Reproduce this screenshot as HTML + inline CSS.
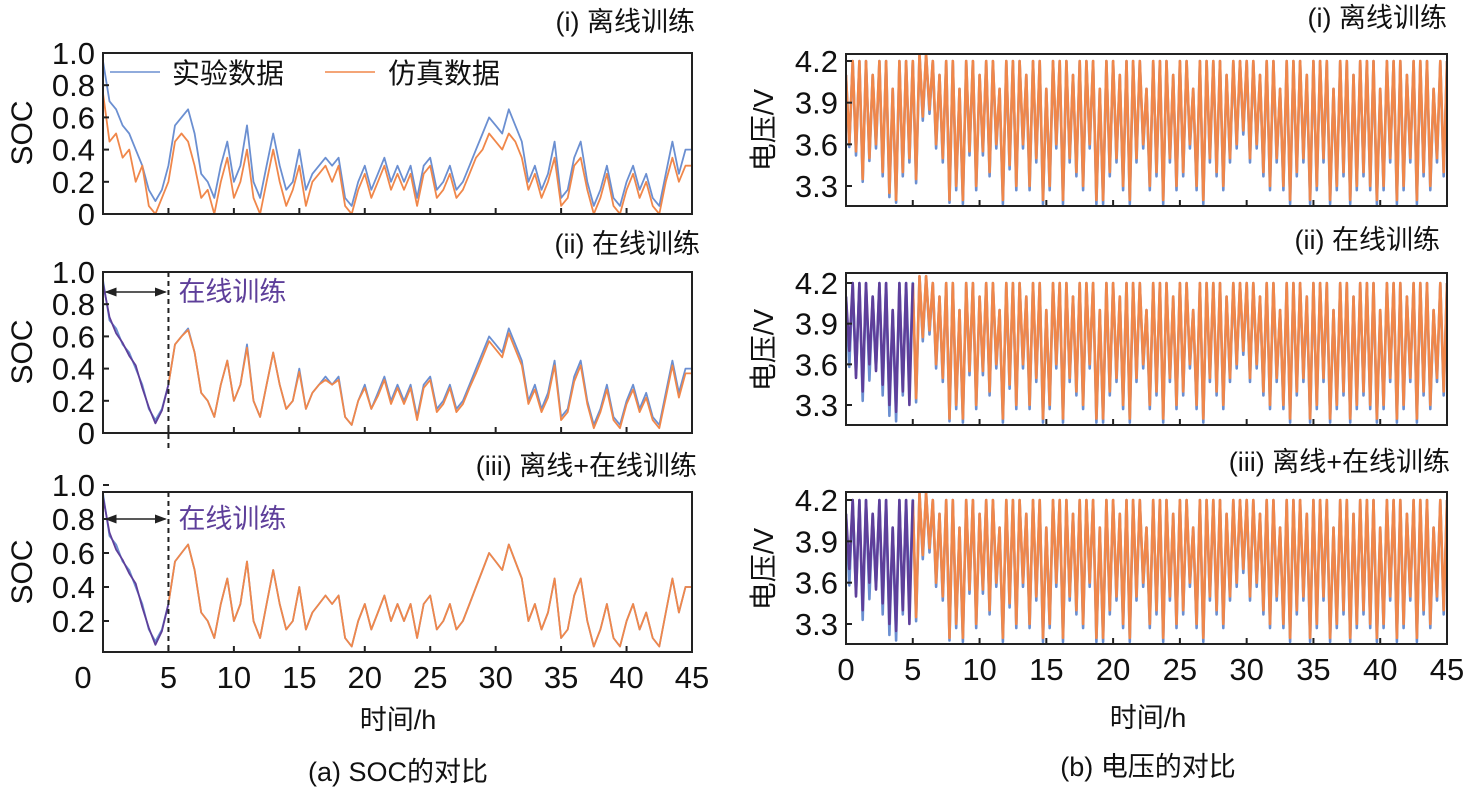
<!DOCTYPE html>
<html><head><meta charset="utf-8"><style>
html,body{margin:0;padding:0;background:#fff;}
svg{display:block;font-family:"Liberation Sans","Noto Sans CJK SC",sans-serif;}
</style></head><body>
<svg id="chart" width="1482" height="791" viewBox="0 0 1482 791" xmlns="http://www.w3.org/2000/svg">
<defs>
<marker id="arr" markerWidth="8" markerHeight="8" refX="7" refY="4" orient="auto"><path d="M0,1 L8,4 L0,7 z" fill="#222"/></marker>
<marker id="arrs" markerWidth="8" markerHeight="8" refX="1" refY="4" orient="auto"><path d="M8,1 L0,4 L8,7 z" fill="#222"/></marker>
</defs>
</svg>
<script>
// ---- data ----
const socTimeStep = 0.5;
const socExp = [0.95,0.7,0.65,0.55,0.5,0.4,0.3,0.15,0.08,0.15,
0.3,0.55,0.6,0.65,0.5,0.25,0.2,0.1,0.3,0.45,
0.2,0.3,0.55,0.2,0.1,0.3,0.5,0.3,0.15,0.2,
0.4,0.15,0.25,0.3,0.35,0.3,0.35,0.1,0.05,0.2,
0.3,0.15,0.25,0.35,0.2,0.3,0.2,0.3,0.1,0.3,
0.35,0.15,0.2,0.3,0.15,0.2,0.3,0.4,0.5,0.6,
0.55,0.5,0.65,0.55,0.45,0.2,0.3,0.15,0.25,0.45,
0.1,0.15,0.35,0.45,0.2,0.05,0.15,0.3,0.1,0.05,
0.2,0.3,0.15,0.25,0.1,0.05,0.25,0.45,0.25,0.4,
0.4];
const socSimOffline = [0.75,0.45,0.5,0.35,0.4,0.2,0.3,0.05,0,0.1,
0.2,0.45,0.5,0.45,0.3,0.1,0.15,0,0.2,0.35,
0.1,0.2,0.4,0.1,0,0.2,0.4,0.2,0.05,0.15,
0.3,0.05,0.2,0.25,0.3,0.2,0.3,0.05,0,0.15,
0.25,0.1,0.2,0.3,0.15,0.25,0.15,0.25,0.05,0.25,
0.3,0.1,0.15,0.25,0.1,0.15,0.25,0.35,0.4,0.5,
0.45,0.4,0.5,0.45,0.35,0.15,0.25,0.1,0.2,0.35,
0.05,0.1,0.3,0.35,0.15,0,0.1,0.25,0.05,0,
0.15,0.25,0.1,0.2,0.05,0,0.2,0.35,0.2,0.3,
0.3];
const socSimOnline = [0.93,0.72,0.62,0.56,0.48,0.42,0.28,0.16,0.06,0.14,
0.3,0.55,0.6,0.64,0.5,0.25,0.2,0.1,0.3,0.45,
0.2,0.3,0.53,0.2,0.1,0.3,0.5,0.3,0.15,0.2,
0.38,0.15,0.25,0.3,0.33,0.3,0.33,0.1,0.05,0.2,
0.28,0.15,0.23,0.33,0.18,0.28,0.18,0.28,0.08,0.28,
0.33,0.13,0.18,0.28,0.13,0.18,0.28,0.37,0.47,0.57,
0.52,0.47,0.62,0.52,0.42,0.18,0.27,0.13,0.22,0.42,
0.08,0.13,0.32,0.42,0.18,0.03,0.13,0.27,0.08,0.03,
0.18,0.27,0.13,0.22,0.08,0.03,0.22,0.42,0.22,0.37,
0.37];
const vHigh = [4.1,4.2,4.2,4.2,4.1,4.2,4.2,4.0,4.2,4.2,
4.2,4.25,4.25,4.2,4.1,4.2,4.2,4.0,4.2,4.2,
4.1,4.2,4.2,4.0,4.2,4.2,4.2,4.1,4.2,4.2,
4.0,4.2,4.2,4.2,4.1,4.2,4.2,4.2,4.0,4.2,
4.2,4.1,4.2,4.2,4.2,4.0,4.2,4.2,4.2,4.1,
4.2,4.2,4.0,4.2,4.2,4.2,4.2,4.1,4.2,4.2,
4.2,4.2,4.1,4.2,4.2,4.0,4.2,4.2,4.2,4.1,
4.2,4.2,4.2,4.0,4.2,4.2,4.1,4.2,4.2,4.2,
4.0,4.2,4.2,4.2,4.1,4.2,4.2,4.2,4.0,4.2,
4.2];
const vLowSim = [3.6,3.55,3.35,3.5,3.6,3.4,3.25,3.2,3.4,3.5,
3.35,3.8,3.85,3.6,3.5,3.2,3.3,3.2,3.55,3.3,
3.55,3.4,3.6,3.2,3.45,3.3,3.6,3.3,3.5,3.2,
3.3,3.6,3.2,3.5,3.4,3.3,3.6,3.2,3.2,3.4,
3.5,3.3,3.2,3.5,3.6,3.3,3.4,3.2,3.5,3.3,
3.4,3.6,3.3,3.2,3.5,3.4,3.3,3.5,3.6,3.7,
3.5,3.6,3.4,3.3,3.5,3.3,3.2,3.4,3.5,3.2,
3.3,3.5,3.2,3.3,3.4,3.2,3.3,3.4,3.3,3.2,
3.3,3.5,3.2,3.3,3.5,3.2,3.4,3.3,3.5,3.4,
3.3];
const vLowExp = [3.58,3.52,3.33,3.48,3.57,3.37,3.22,3.18,3.37,3.47,
3.32,3.77,3.82,3.57,3.47,3.18,3.27,3.17,3.52,3.27,
3.52,3.37,3.57,3.17,3.42,3.27,3.57,3.27,3.47,3.17,
3.27,3.57,3.17,3.47,3.37,3.27,3.57,3.17,3.17,3.37,
3.47,3.27,3.17,3.47,3.57,3.27,3.37,3.17,3.47,3.27,
3.37,3.57,3.27,3.17,3.47,3.37,3.27,3.47,3.57,3.67,
3.47,3.57,3.37,3.27,3.47,3.27,3.17,3.37,3.47,3.17,
3.27,3.47,3.17,3.27,3.37,3.17,3.27,3.37,3.27,3.17,
3.27,3.47,3.17,3.27,3.47,3.17,3.37,3.27,3.47,3.37,
3.27];
const vLowOnline = [3.7,3.5,3.4,3.6,3.55,3.45,3.3,3.25,3.4,3.3,3.3];
const xTicks = [0,5,10,15,20,25,30,35,40,45];
const socTicks = [0,0.2,0.4,0.6,0.8,1.0];
const socTickLabels = ["0","0.2","0.4","0.6","0.8","1.0"];
const vTicks = [3.3,3.6,3.9,4.2];
const vTickLabels = ["3.3","3.6","3.9","4.2"];

const NS = "http://www.w3.org/2000/svg";
const svg = document.getElementById("chart");
const BLUE = "#6b8fd1", ORANGE = "#f0874a", PURPLE = "#5e3f9a";

function mk(tag, attrs, parent){
  const e = document.createElementNS(NS, tag);
  for (const k in attrs) e.setAttribute(k, attrs[k]);
  (parent||svg).appendChild(e);
  return e;
}
function txt(s, x, y, opts, name){
  const t = mk("text", Object.assign({x:x, y:y, "font-size":26, fill:"#111"}, opts||{}));
  t.textContent = s;
  
  
  return t;
}

function panel(cfg){
  const g = mk("g", {});
  
  
  const xs = t => cfg.x0 + (t/45)*(cfg.x1-cfg.x0);
  const ys = v => cfg.yOf(v);
  const cid = cfg.name + "-clip";
  const cp = mk("clipPath", {id:cid}, g);
  mk("rect", {x:cfg.x0, y:cfg.top, width:cfg.x1-cfg.x0, height:cfg.bot-cfg.top}, cp);
  const plot = mk("g", {"clip-path":"url(#"+cid+")"}, g);
  cfg.series.forEach(s => {
    let pts = [];
    if (s.type === "soc") {
      s.data.forEach((v,i)=>{ const t=i*socTimeStep; if(t>=s.from && t<=s.to) pts.push(xs(t).toFixed(1)+","+ys(v).toFixed(1)); });
    } else {
      s.high.forEach((h,i)=>{
        const t=i*0.5;
        if(t>=s.from && t<=s.to){
          pts.push(xs(t).toFixed(1)+","+ys(h).toFixed(1));
          if(i < s.low.length && t+0.25<=s.to) pts.push(xs(t+0.25).toFixed(1)+","+ys(s.low[i]).toFixed(1));
        }
      });
    }
    const pl = mk("polyline", {points:pts.join(" "), fill:"none", stroke:s.color, "stroke-width":s.type==="soc"?1.8:2.6, "stroke-linejoin":"round"}, plot);
    
    
  });
  const box = mk("rect", {x:cfg.x0, y:cfg.top, width:cfg.x1-cfg.x0, height:cfg.bot-cfg.top, fill:"none", stroke:"#222", "stroke-width":2}, g);
  
  
  cfg.yTicks.forEach((v,i)=>{
    const y = ys(v);
    mk("line", {x1:cfg.x0, x2:cfg.x0+6, y1:y, y2:y, stroke:"#222", "stroke-width":2}, g);
    txt(cfg.yLabels[i], cfg.x0-8, y+11, {"text-anchor":"end", "font-size":31}, cfg.name+'-y-tick-label');
  });
  xTicks.forEach(t=>{
    mk("line", {x1:xs(t), x2:xs(t), y1:cfg.bot, y2:cfg.bot-6, stroke:"#222", "stroke-width":2}, g);
  });
  if (cfg.xLabels) xTicks.forEach(t=>{
    const x = t===0 ? xs(t)-(cfg.zeroShift||0) : xs(t);
    txt(String(t), x, cfg.bot+36, {"text-anchor":"middle", "font-size":31}, 'x-tick-label');
  });
  return {xs, ys};
}

const L = {x0:103, x1:692};
const R = {x0:846, x1:1447};
const socY = (top,bot,lo,hi)=> v => bot - (v-lo)/(hi-lo)*(bot-top);

panel({name:"soc-panel-offline", x0:L.x0, x1:L.x1, top:53, bot:214, yOf:socY(53,214,0,1), yTicks:socTicks, yLabels:socTickLabels,
  series:[{type:"soc", data:socExp, from:0, to:45, color:BLUE, name:"soc-exp-line"},
          {type:"soc", data:socSimOffline, from:0, to:45, color:ORANGE, name:"soc-sim-line"}]});
const p2 = panel({name:"soc-panel-online", x0:L.x0, x1:L.x1, top:272, bot:433, yOf:socY(272,433,0,1), yTicks:socTicks, yLabels:socTickLabels,
  series:[{type:"soc", data:socExp, from:0, to:45, color:BLUE, name:"soc-exp-line"},
          {type:"soc", data:socSimOnline, from:5, to:45, color:ORANGE, name:"soc-sim-line"},
          {type:"soc", data:socSimOnline, from:0, to:5, color:PURPLE, name:"soc-online-training-line"}]});
const p3 = panel({name:"soc-panel-combined", x0:L.x0, x1:L.x1, top:492, bot:652, yOf:v=>621-(v-0.2)*170, yTicks:[0.2,0.4,0.6,0.8,1.0], yLabels:["0.2","0.4","0.6","0.8","1.0"], xLabels:true, zeroShift:20,
  series:[{type:"soc", data:socExp, from:0, to:45, color:BLUE, name:"soc-exp-line"},
          {type:"soc", data:socExp, from:5, to:45, color:ORANGE, name:"soc-sim-line"},
          {type:"soc", data:socSimOnline, from:0, to:5, color:PURPLE, name:"soc-online-training-line"}]});

const vY = (y42, y33) => v => y33 - (v-3.3)/0.9*(y33-y42);
panel({name:"voltage-panel-offline", x0:R.x0, x1:R.x1, top:54, bot:206, yOf:vY(61,186), yTicks:vTicks, yLabels:vTickLabels,
  series:[{type:"v", high:vHigh, low:vLowExp, from:0, to:45, color:BLUE, name:"voltage-exp-line"},
          {type:"v", high:vHigh, low:vLowSim, from:0, to:45, color:ORANGE, name:"voltage-sim-line"}]});
panel({name:"voltage-panel-online", x0:R.x0, x1:R.x1, top:273, bot:425, yOf:vY(283,405), yTicks:vTicks, yLabels:vTickLabels,
  series:[{type:"v", high:vHigh, low:vLowExp, from:0, to:45, color:BLUE, name:"voltage-exp-line"},
          {type:"v", high:vHigh, low:vLowSim, from:5, to:45, color:ORANGE, name:"voltage-sim-line"},
          {type:"v", high:vHigh, low:vLowOnline, from:0, to:5, color:PURPLE, name:"voltage-online-training-line"}]});
panel({name:"voltage-panel-combined", x0:R.x0, x1:R.x1, top:492, bot:644, yOf:vY(500,624), yTicks:vTicks, yLabels:vTickLabels, xLabels:true, zeroShift:0,
  series:[{type:"v", high:vHigh, low:vLowExp, from:0, to:45, color:BLUE, name:"voltage-exp-line"},
          {type:"v", high:vHigh, low:vLowSim, from:5, to:45, color:ORANGE, name:"voltage-sim-line"},
          {type:"v", high:vHigh, low:vLowOnline, from:0, to:5, color:PURPLE, name:"voltage-online-training-line"}]});

[[p2, 292, 272, 448, "online-training-marker-ii"],[p3, 519, 492, 652, "online-training-marker-iii"]].forEach(a=>{
  const p=a[0], x5=p.xs(5);
  const d = mk("line", {x1:x5, x2:x5, y1:a[2], y2:a[3], stroke:"#222", "stroke-width":2, "stroke-dasharray":"5,4"});
  
  
  const ar = mk("line", {x1:p.xs(0)+3, x2:x5-3, y1:a[1], y2:a[1], stroke:"#222", "stroke-width":1.5, "marker-end":"url(#arr)", "marker-start":"url(#arrs)"});
  
  
  txt("在线训练", x5+10, a[1]+9, {fill:PURPLE, "font-size":27}, a[4]+'-label');
});

const lg = mk("g", {});


mk("line", {x1:110, x2:160, y1:72, y2:72, stroke:BLUE, "stroke-width":1.5}, lg);
txt("实验数据", 172, 83, {"font-size":28}, 'legend-entry-experimental');
mk("line", {x1:325, x2:375, y1:72, y2:72, stroke:ORANGE, "stroke-width":1.5}, lg);
txt("仿真数据", 388, 83, {"font-size":28}, 'legend-entry-simulated');

txt("(i) 离线训练", 695, 31, {"text-anchor":"end", "font-size":27}, 'soc-panel-offline-title');
txt("(ii) 在线训练", 700, 253, {"text-anchor":"end", "font-size":27}, 'soc-panel-online-title');
txt("(iii) 离线+在线训练", 697, 475, {"text-anchor":"end", "font-size":27}, 'soc-panel-combined-title');
txt("(i) 离线训练", 1447, 27, {"text-anchor":"end", "font-size":27}, 'voltage-panel-offline-title');
txt("(ii) 在线训练", 1440, 249, {"text-anchor":"end", "font-size":27}, 'voltage-panel-online-title');
txt("(iii) 离线+在线训练", 1450, 471, {"text-anchor":"end", "font-size":27}, 'voltage-panel-combined-title');

[[133,"soc-y-axis-title-i"],[352,"soc-y-axis-title-ii"],[572,"soc-y-axis-title-iii"]].forEach(a=>{
  txt("SOC", 0, 0, {transform:"translate(32,"+a[0]+") rotate(-90)", "text-anchor":"middle", "font-size":30}, a[1]);
});
[[130,"voltage-y-axis-title-i"],[350,"voltage-y-axis-title-ii"],[569,"voltage-y-axis-title-iii"]].forEach(a=>{
  txt("电压/V", 0, 0, {transform:"translate(773,"+a[0]+") rotate(-90)", "text-anchor":"middle", "font-size":28}, a[1]);
});
txt("时间/h", 398, 729, {"text-anchor":"middle", "font-size":27}, 'soc-x-axis-title');
txt("时间/h", 1148, 727, {"text-anchor":"middle", "font-size":27}, 'voltage-x-axis-title');
txt("(a) SOC的对比", 398, 781, {"text-anchor":"middle", "font-size":27}, 'caption-a');
txt("(b) 电压的对比", 1148, 776, {"text-anchor":"middle", "font-size":27}, 'caption-b');
</script>
</body></html>
